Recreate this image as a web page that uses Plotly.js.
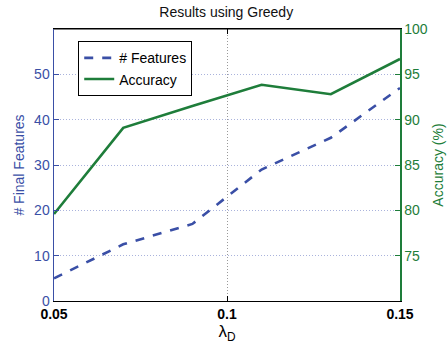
<!DOCTYPE html>
<html><head><meta charset="utf-8">
<script src="https://cdn.plot.ly/plotly-3.0.1.min.js"></script>
<style>body{margin:0;background:#fff}#c{width:448px;height:350px}</style>
</head><body><div id="c"></div>
<script>
const lambdaD = [0.05, 0.07, 0.09, 0.11, 0.13, 0.15];
const numFeatures = [5, 12.5, 17, 29, 36, 47];
const accuracy = [79.6, 89.1, 91.5, 93.85, 92.8, 96.7];
const xTicks = [0.05, 0.1, 0.15];
const xTickText = ['0.05', '0.1', '0.15'];
const leftTicks = [0, 10, 20, 30, 40, 50];
const rightTicks = [75, 80, 85, 90, 95, 100];

const blue = '#3a4fa6', green = '#1e7d3a';
const font = 'Liberation Sans, Arial, sans-serif';

const traces = [
  {x: lambdaD, y: numFeatures, name: '# Features', mode: 'lines',
   line: {color: blue, width: 2.6, dash: 'dash'}, yaxis: 'y'},
  {x: lambdaD, y: accuracy, name: 'Accuracy', mode: 'lines',
   line: {color: green, width: 2.6}, yaxis: 'y2'}
];

const layout = {
  width: 448, height: 350,
  margin: {l: 54, r: 48, t: 29, b: 49},
  paper_bgcolor: '#fff', plot_bgcolor: '#fff',
  font: {family: font, size: 14, color: '#000'},
  title: {text: 'Results using Greedy', font: {size: 14, color: '#111'}, x: 0.505, xanchor: 'center', y: 0.965, yanchor: 'middle'},
  showlegend: true,
  legend: {x: 0.07, y: 0.955, xanchor: 'left', yanchor: 'top', bordercolor: '#000', borderwidth: 1,
           bgcolor: '#fff', font: {size: 14, color: '#000'}, tracegroupgap: 0, itemwidth: 30},
  xaxis: {range: [0.05, 0.15], tickvals: xTicks, ticktext: xTickText,
          showline: true, linecolor: '#000', linewidth: 1, mirror: 'ticks',
          ticks: 'inside', ticklen: 5, tickcolor: '#000',
          showgrid: true, gridcolor: '#999', griddash: '1px,2px', gridwidth: 1,
          zeroline: false, tickfont: {size: 14, color: '#000', family: 'Liberation Sans, Arial', weight: 'bold'},
          title: {text: 'λ<sub>D</sub>', font: {size: 17, color: '#000'}, standoff: 4}},
  yaxis: {range: [0, 60], tickvals: leftTicks, showline: true, linecolor: blue, linewidth: 1.5,
          ticks: 'inside', ticklen: 5, tickcolor: blue,
          showgrid: true, gridcolor: '#aab3dc', griddash: '1px,2px', gridwidth: 1, zeroline: false,
          tickfont: {size: 14, color: blue},
          title: {text: '# Final Features', font: {size: 14, color: blue}, standoff: 6}},
  yaxis2: {range: [70, 100], tickvals: rightTicks, overlaying: 'y', side: 'right',
          showline: true, linecolor: green, linewidth: 1.5,
          ticks: 'inside', ticklen: 5, tickcolor: green, showgrid: false, zeroline: false,
          tickfont: {size: 14, color: green},
          title: {text: 'Accuracy (%)', font: {size: 14, color: green}, standoff: 6}},
  shapes: [{type: 'line', xref: 'paper', yref: 'paper', x0: 0, x1: 1, y0: 1, y1: 1, line: {color: '#000', width: 1}}]
};
Plotly.newPlot('c', traces, layout, {displayModeBar: false, staticPlot: true});
</script></body></html>
